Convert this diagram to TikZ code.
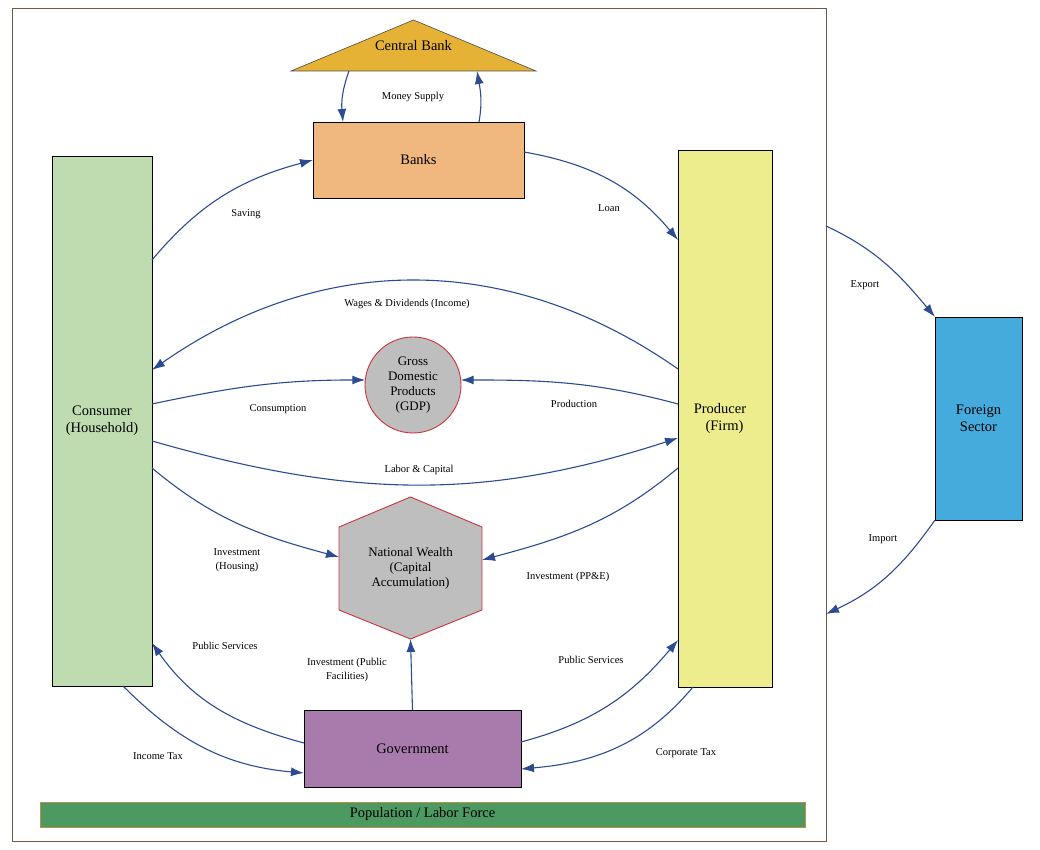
\documentclass[tikz,border=0pt]{standalone}
\usepackage{fontspec}
\setmainfont{Liberation Serif}
\usetikzlibrary{arrows.meta,backgrounds}

\definecolor{framebrown}{HTML}{6E5A4B}
\definecolor{cbgold}{HTML}{E6B236}
\definecolor{bankorange}{HTML}{F0B77F}
\definecolor{consgreen}{HTML}{BEDCB0}
\definecolor{prodyellow}{HTML}{EDED8D}
\definecolor{foreignblue}{HTML}{45AADC}
\definecolor{wealthgrey}{HTML}{BEBEBE}
\definecolor{wealthred}{HTML}{CC3340}
\definecolor{govpurple}{HTML}{A97BAC}
\definecolor{popgreen}{HTML}{4C9A62}
\definecolor{popborder}{HTML}{B8904A}
\definecolor{flowblue}{HTML}{2B4C92}

\begin{document}
\begin{tikzpicture}[x=1pt,y=1pt,
    box/.style={draw=black,line width=0.8pt,inner sep=0pt,outer sep=0pt,align=center,
        font=\fontsize{14.5}{17}\selectfont},
    wealth/.style={inner sep=0pt,outer sep=0pt,align=center,font=\fontsize{13}{15}\selectfont},
    flow/.style={draw=flowblue,line width=1.1pt,-{Latex[length=13pt,width=9pt]}},
    lbl/.style={inner sep=0pt,align=center,font=\fontsize{10.5}{14}\selectfont}]

\useasboundingbox (0,0) rectangle (1040,850);

% === Frame of the domestic economy ===
\draw[framebrown,line width=0.9pt] (12,9) rectangle (826,842);
\coordinate (exportout) at (826,624);
\coordinate (importin) at (826,236);

% === Sectors ===
\node (cb) [inner sep=0pt,outer sep=0pt,minimum width=245,minimum height=51,
    font=\fontsize{14.5}{17}\selectfont] at (413.5,804.5) {Central Bank};
\node (banks) [box,fill=bankorange,minimum width=211,minimum height=76] at (418.5,690) {Banks};
\node (cons) [box,fill=consgreen,minimum width=100,minimum height=530] at (102,429) {Consumer\\(Household)};
\node (prod) [box,fill=prodyellow,minimum width=94,minimum height=537] at (725,431.5)
    {Producer\hspace*{10pt}\\ (Firm)\hspace*{1pt}};
\node (foreign) [box,fill=foreignblue,minimum width=87,minimum height=203] at (978.5,431.5) {Foreign\\Sector};
\node (gov) [box,fill=govpurple,minimum width=217,minimum height=77] at (412.5,101.5) {Government};
\node (pop) [box,draw=popborder,fill=popgreen,minimum width=765,minimum height=25] at (422.5,35.5) {Population / Labor Force};

% === Aggregates ===
\node (gdp) [wealth,circle,draw=wealthred,line width=0.9pt,fill=wealthgrey,minimum size=96] at (413,465)
    {Gross\\Domestic\\Products\\(GDP)};
\node (nw) [wealth,minimum width=143,minimum height=142] at (410.5,282)
    {National Wealth\\(Capital\\Accumulation)};

\begin{scope}[on background layer]
    % triangle roof
    \draw[fill=cbgold,draw=black!70,line width=0.6pt] (cb.south west) -- (cb.south east) -- (cb.north) -- cycle;
    % hexagon
    \draw[fill=wealthgrey,draw=wealthred,line width=0.9pt]
        (nw.north) -- ([yshift=41pt]nw.east) -- ([yshift=-42pt]nw.east) -- (nw.south)
        -- ([yshift=-42pt]nw.west) -- ([yshift=41pt]nw.west) -- cycle;
\end{scope}

% === Money flows ===
\draw[flow] ([xshift=-64.5pt]cb.south) to[out=250,in=95] ([xshift=-75.5pt]banks.north);
\draw[flow] ([xshift=60.5pt]banks.north) to[out=80,in=-80] ([xshift=63.5pt]cb.south);
\node (lmoney) [lbl] at (413,753) {Money Supply};

\draw[flow] ([yshift=161pt]cons.east) to[out=50,in=195] (banks.west);
\node (lsaving) [lbl] at (246,636) {Saving};

\draw[flow] ([yshift=8pt]banks.east) to[out=-10,in=130] ([yshift=178.5pt]prod.west);
\node (lloan) [lbl] at (609,642) {Loan};

\draw[flow] ([yshift=49.5pt]prod.west) to[out=145,in=35] ([yshift=51pt]cons.east);
\node (lwages) [lbl] at (407,546) {Wages \& Dividends (Income)};

\draw[flow] ([yshift=17pt]cons.east) to[out=12,in=180] (gdp.174);
\node (lcons) [lbl] at (278,441) {Consumption};

\draw[flow] ([yshift=14.5pt]prod.west) to[out=165,in=0] (gdp.6);
\node (lprod) [lbl] at (574,446) {Production};

\draw[flow] ([yshift=-20pt]cons.east) to[out=-16,in=198] ([yshift=-19.5pt]prod.west);
\node (llabor) [lbl] at (419,380) {Labor \& Capital};

\draw[flow] ([yshift=-47pt]cons.east) to[out=-40,in=165] ([yshift=11pt]nw.west);
\node (lhousing) [lbl] at (237,290) {Investment\\(Housing)};

\draw[flow] ([yshift=-49.5pt]prod.west) to[out=220,in=15] ([yshift=8pt]nw.east);
\node (lppe) [lbl] at (568,273) {Investment (PP\&E)};

% === Government ===
\draw[flow] ([yshift=5.5pt]gov.west) to[out=165,in=-55] ([yshift=-222pt]cons.east);
\node (lpubcons) [lbl] at (225,204) {Public Services};

\draw[flow] ([xshift=21pt]cons.south) to[out=-45,in=175] ([yshift=-24.5pt]gov.west);
\node (lincome) [lbl] at (158,94) {Income Tax};

\draw[flow] (gov.north) -- (nw.south);
\node (lpublic) [lbl] at (347,180) {Investment (Public\\Facilities)};

\draw[flow] ([yshift=6.5pt]gov.east) to[out=15,in=230] ([yshift=-221.5pt]prod.west);
\node (lpubprod) [lbl] at (591,190) {Public Services};

\draw[flow] ([xshift=-32pt]prod.south) to[out=230,in=5] ([yshift=-20.5pt]gov.east);
\node (lcorp) [lbl] at (686,97) {Corporate Tax};

% === Foreign sector ===
\draw[flow] (exportout) to[out=-25,in=130] (foreign.north west);
\node (lexport) [lbl] at (865,565) {Export};

\draw[flow] (foreign.south west) to[out=235,in=25] (importin);
\node (limport) [lbl] at (883,311) {Import};

\end{tikzpicture}
\end{document}
